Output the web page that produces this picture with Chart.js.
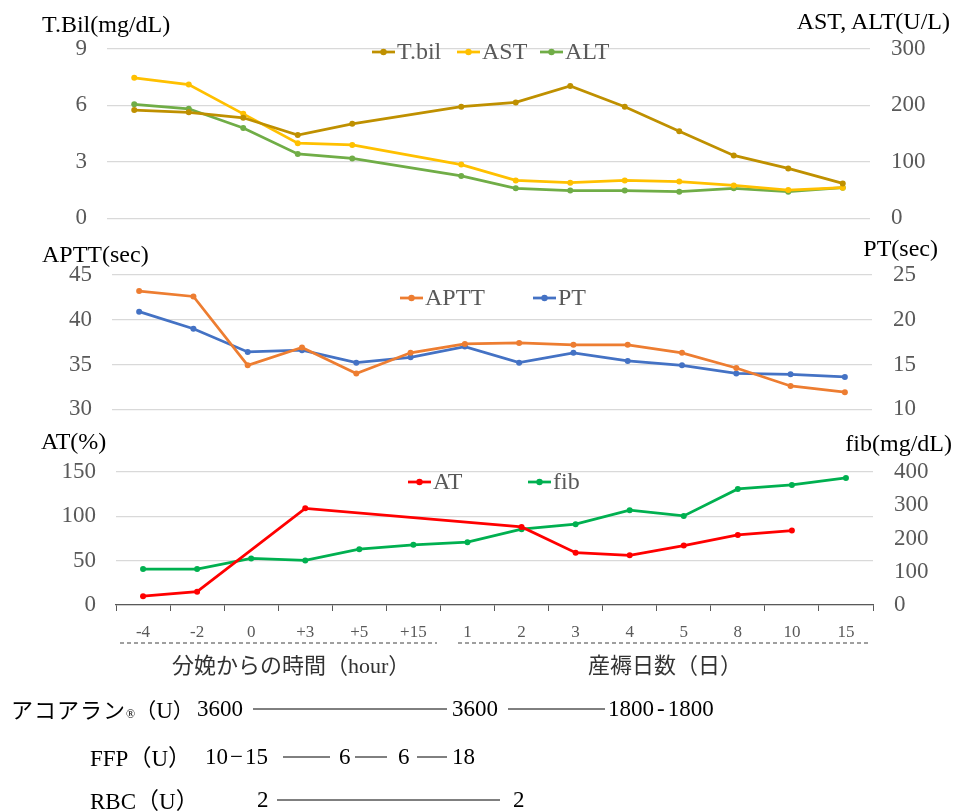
<!DOCTYPE html>
<html>
<head>
<meta charset="utf-8">
<script src="https://cdn.jsdelivr.net/npm/chart.js@4"></script>
<style>
body { margin: 0; background: #fff; width: 955px; height: 812px; position: relative; overflow: hidden;
       font-family: "Liberation Serif", "Noto Sans CJK JP", serif; }
canvas { position: absolute; left: 0; }
.t { position: absolute; white-space: nowrap; color: #000; font-size: 23px; line-height: 23px; }
.jp { font-family: "Noto Sans CJK JP", sans-serif; }
svg { position: absolute; left: 0; top: 0; }
</style>
</head>
<body>
<canvas id="liverChart" width="955" height="253" style="top:0"></canvas>
<canvas id="coagChart" width="955" height="204" style="top:240px"></canvas>
<canvas id="atChart" width="955" height="215" style="top:430px"></canvas>

<div class="t" style="left:42px;top:13px;font-size:24px">T.Bil(mg/dL)</div>
<div class="t" style="right:5px;top:10px;font-size:24px">AST, ALT(U/L)</div>
<div class="t" style="left:42px;top:243px;font-size:24px">APTT(sec)</div>
<div class="t" style="right:17px;top:237px;font-size:24px">PT(sec)</div>
<div class="t" style="left:41px;top:430px;font-size:24px">AT(%)</div>
<div class="t" style="right:3px;top:432px;font-size:24px">fib(mg/dL)</div>

<svg width="955" height="812">
  <g stroke="#404040" stroke-width="1.2" stroke-dasharray="4 3">
    <line x1="120" y1="643" x2="437" y2="643"/>
    <line x1="458" y1="643" x2="868" y2="643"/>
  </g>
  <g stroke="#000" stroke-width="1">
    <line x1="253" y1="709" x2="447" y2="709"/>
    <line x1="508" y1="709" x2="605" y2="709"/>
    <line x1="283" y1="757" x2="330" y2="757"/>
    <line x1="355" y1="757" x2="387" y2="757"/>
    <line x1="417" y1="757" x2="447" y2="757"/>
    <line x1="277" y1="800" x2="500" y2="800"/>
  </g>
</svg>

<div class="t jp" style="left:172px;top:652px;font-size:22px;color:#333">分娩からの時間（<span style="font-family:'Liberation Serif'">hour</span>）</div>
<div class="t jp" style="left:588px;top:652px;font-size:22px;color:#333">産褥日数（日）</div>

<div class="t" style="left:11px;top:697px"><span class="jp" style="font-size:22px;letter-spacing:1px">アコアラン</span><span style="font-size:12px">®</span><span class="jp" style="font-size:21px">（</span>U<span class="jp" style="font-size:21px">）</span></div>
<div class="t" style="left:197px;top:697px">3600</div>
<div class="t" style="left:452px;top:697px">3600</div>
<div class="t" style="left:608px;top:697px">1800<span style="margin:0 3px">-</span>1800</div>

<div class="t" style="left:90px;top:745px">FFP<span class="jp">（</span>U<span class="jp">）</span></div>
<div class="t" style="left:205px;top:745px">10<span style="margin:0 2px">−</span>15</div>
<div class="t" style="left:339px;top:745px">6</div>
<div class="t" style="left:398px;top:745px">6</div>
<div class="t" style="left:452px;top:745px">18</div>

<div class="t" style="left:90px;top:788px">RBC<span class="jp">（</span>U<span class="jp">）</span></div>
<div class="t" style="left:257px;top:788px">2</div>
<div class="t" style="left:513px;top:788px">2</div>

<script>
const categories = ['-4', '-2', '0', '+3', '+5', '+15', '1', '2', '3', '4', '5', '8', '10', '15'];

const tbil = [5.75, 5.63, 5.34, 4.42, 5.02, null, 5.93, 6.16, 7.03, 5.93, 4.63, 3.34, 2.65, 1.85];
const ast  = [249, 237, 185, 133, 130, null, 95, 67, 63, 67, 65, 58, 50, 54];
const alt  = [202, 194, 160, 114, 106, null, 75, 53, 49, 49, 47, 53, 47, 54];

const aptt = [43.2, 42.6, 34.9, 36.9, 34.0, 36.3, 37.3, 37.4, 37.2, 37.2, 36.3, 34.6, 32.6, 31.9];
const pt   = [20.9, 19.0, 16.4, 16.6, 15.2, 15.8, 17.0, 15.2, 16.3, 15.4, 14.9, 14.0, 13.9, 13.6];

const at   = [10, 15, null, 109, null, null, null, 88, 59, 56, 67, 79, 84, null];
const fib  = [108, 108, 140, 134, 168, 181, 189, 228, 243, 285, 268, 349, 361, 382];

const FONT = "'Liberation Serif', 'Noto Sans CJK JP', serif";
const GRID = '#d9d9d9';
const TXT = '#595959';

// legend drawn as line + dot + label at fixed spots
const lineLegend = {
    id: 'lineLegend',
    afterDraw(chart, args, opts) {
        const ctx = chart.ctx;
        chart.data.datasets.forEach((ds, i) => {
            const x = opts.xs[i], y = opts.y;
            ctx.save();
            ctx.strokeStyle = ds.borderColor;
            ctx.lineWidth = 2.75;
            ctx.beginPath();
            ctx.moveTo(x, y);
            ctx.lineTo(x + 23, y);
            ctx.stroke();
            ctx.fillStyle = ds.borderColor;
            ctx.beginPath();
            ctx.arc(x + 11.5, y, 3.2, 0, Math.PI * 2);
            ctx.fill();
            ctx.fillStyle = TXT;
            ctx.font = '24px ' + FONT;
            ctx.textBaseline = 'middle';
            ctx.fillText(ds.label, x + 25, y + 1);
            ctx.restore();
        });
    }
};

function series(label, data, color, axis) {
    return {
        label: label,
        data: data,
        yAxisID: axis,
        borderColor: color,
        backgroundColor: color,
        borderWidth: 2.75,
        pointRadius: 3,
        pointBorderWidth: 0,
        tension: 0
    };
}

function yScale(pos, min, max, step, width, grid) {
    return {
        position: pos,
        min: min,
        max: max,
        ticks: { stepSize: step, color: TXT, padding: pos === 'left' ? 20 : 21, font: { size: 23, family: FONT } },
        grid: { display: grid, color: GRID, drawTicks: false, lineWidth: 1.2 },
        border: { display: false },
        afterFit(s) { s.width = width; }
    };
}

function makeChart(id, datasets, scales, padding, legend) {
    const ctx = document.getElementById(id).getContext('2d');
    return new Chart(ctx, {
        type: 'line',
        data: { labels: categories, datasets: datasets },
        options: {
            responsive: false,
            animation: false,
            spanGaps: true,
            layout: { padding: padding },
            scales: scales,
            plugins: {
                legend: { display: false },
                tooltip: { enabled: false },
                lineLegend: legend
            }
        },
        plugins: [lineLegend]
    });
}

// bottom edge is set by the tick label padding, so canvas heights carry it
makeChart('liverChart',
    [series('T.bil', tbil, '#BF9000', 'y'), series('AST', ast, '#FFC000', 'y1'), series('ALT', alt, '#70AD47', 'y1')],
    {
        x: { display: false, offset: true },
        y: yScale('left', 0, 9, 3, 107, true),
        y1: yScale('right', 0, 300, 100, 85, false)
    },
    { top: 49, bottom: 0 },
    { y: 52, xs: [372, 457, 540] });

makeChart('coagChart',
    [series('APTT', aptt, '#ED7D31', 'y'), series('PT', pt, '#4472C4', 'y1')],
    {
        x: { display: false, offset: true },
        y: yScale('left', 30, 45, 5, 112, true),
        y1: yScale('right', 10, 25, 5, 83, false)
    },
    { top: 35, bottom: 0 },
    { y: 58, xs: [400, 533] });

makeChart('atChart',
    [series('AT', at, '#FF0000', 'y'), series('fib', fib, '#00B050', 'y1')],
    {
        x: {
            offset: true,
            grid: { offset: true, drawOnChartArea: false, drawTicks: true, tickLength: 6, color: '#595959' },
            border: { color: '#595959', width: 1.2 },
            ticks: { color: TXT, padding: 11, maxRotation: 0, autoSkip: false, font: { size: 17, family: FONT } },
            afterFit(s) { s.height = 40; }
        },
        y: yScale('left', 0, 150, 50, 116, true),
        y1: yScale('right', 0, 400, 100, 82, false)
    },
    { top: 42, bottom: 0 },
    { y: 52, xs: [408, 528] });
</script>
</body>
</html>
